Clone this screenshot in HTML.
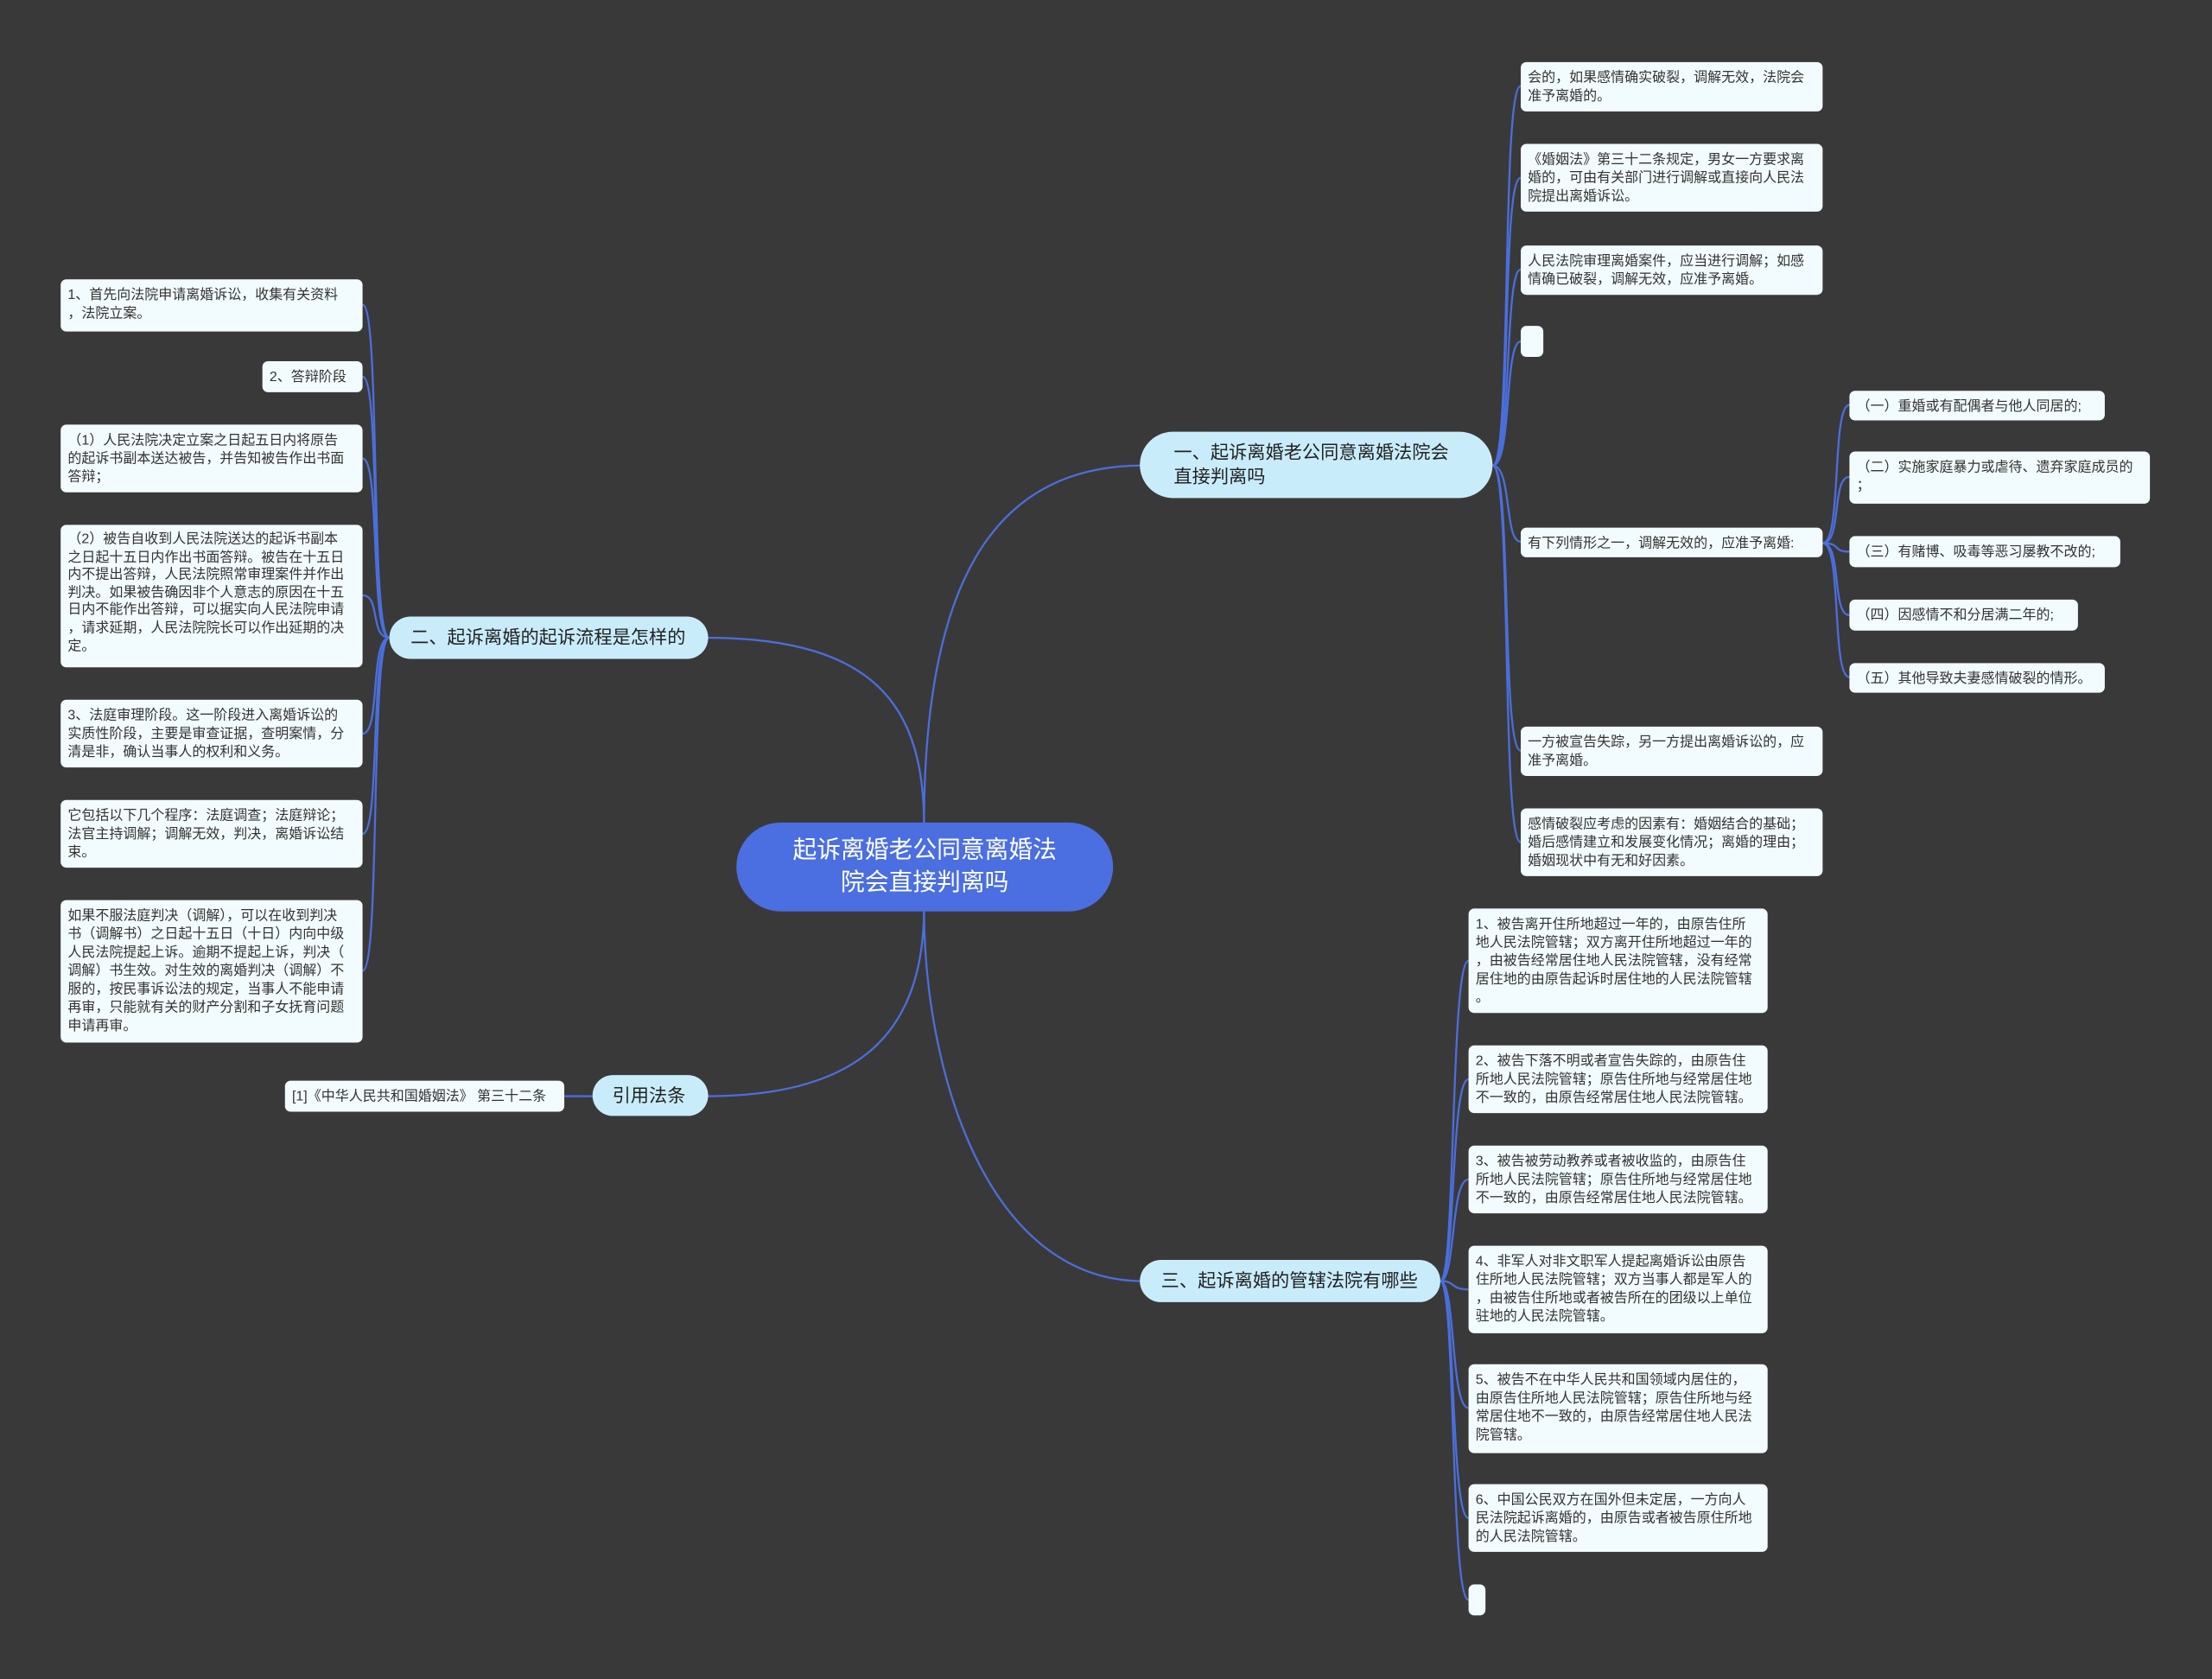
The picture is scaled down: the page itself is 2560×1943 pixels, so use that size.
<!DOCTYPE html>
<html><head><meta charset="utf-8"><style>
html,body{margin:0;padding:0;background:#3a393a;}
#wrap{width:2560px;height:1943px;overflow:hidden;position:relative;background:#3a393a;}
#s{position:absolute;left:0;top:0;width:1568px;height:1190px;transform:scale(1.63265);transform-origin:0 0;font-family:"Liberation Sans","Noto Sans CJK SC",sans-serif;}
.l{position:absolute;background:#f2fbfd;border-radius:4px;font-size:9.8px;line-height:13px;color:#333;padding:5px 4px 3px 5px;box-sizing:border-box;white-space:nowrap;overflow:hidden;}
.n{position:absolute;background:#c9ecfb;color:#222;font-size:13px;line-height:17px;box-sizing:border-box;border-radius:24px;}
svg{position:absolute;left:0;top:0;}
</style></head><body><div id="wrap"><div id="s">
<svg width="1568" height="1190" fill="none" stroke="#4a6fdc" stroke-width="1.4">
<path d="M655,585 C655,420 700,330 810,330"/>
<path d="M655,585 C655,500 620,452 500,452"/>
<path d="M655,644 C655,760 700,908 810,908"/>
<path d="M655,644 C655,740 600,777 500,777"/>
<path d="M420,777 H400"/>
<g>
<path d="M1058,330 C1072,330 1064,61 1078,61"/>
<path d="M1058,330 C1072,330 1064,126 1078,126"/>
<path d="M1058,330 C1072,330 1066,191 1078,191"/>
<path d="M1058,330 C1072,330 1066,242 1078,242"/>
<path d="M1058,330 C1072,330 1066,384 1078,384"/>
<path d="M1058,330 C1072,330 1064,532 1078,532"/>
<path d="M1058,330 C1072,330 1064,597 1078,597"/>
</g>
<g>
<path d="M1292,385 C1306,385 1298,287 1311,287"/>
<path d="M1292,385 C1306,385 1298,338 1311,338"/>
<path d="M1292,385 C1306,385 1298,391 1311,391"/>
<path d="M1292,385 C1306,385 1298,436 1311,436"/>
<path d="M1292,385 C1306,385 1298,480 1311,480"/>
</g>
<g>
<path d="M276,452 C262,452 270,216 257,216"/>
<path d="M276,452 C262,452 270,267 257,267"/>
<path d="M276,452 C262,452 270,325 257,325"/>
<path d="M276,452 C262,452 270,422 257,422"/>
<path d="M276,452 C262,452 270,520 257,520"/>
<path d="M276,452 C262,452 270,591 257,591"/>
<path d="M276,452 C262,452 270,688 257,688"/>
</g>
<g>
<path d="M1021,908 C1032,908 1028,681 1041,681"/>
<path d="M1021,908 C1032,908 1028,765 1041,765"/>
<path d="M1021,908 C1032,908 1028,836 1041,836"/>
<path d="M1021,908 C1032,908 1028,914 1041,914"/>
<path d="M1021,908 C1032,908 1028,998 1041,998"/>
<path d="M1021,908 C1032,908 1028,1076 1041,1076"/>
<path d="M1021,908 C1032,908 1028,1134 1041,1134"/>
</g>
</svg>

<div style="position:absolute;left:522px;top:583px;width:267px;height:63px;background:#4b6fe0;border-radius:32px;color:#fff;font-size:17px;line-height:23px;text-align:center;box-sizing:border-box;padding-top:8px;">起诉离婚老公同意离婚法<br>院会直接判离吗</div>

<div class="n" style="left:808px;top:306px;width:250px;height:47px;padding:6px 0 0 24px;">一、起诉离婚老公同意离婚法院会<br>直接判离吗</div>
<div class="n" style="left:276px;top:437px;width:226px;height:30px;padding:6px 0 0 15px;">二、起诉离婚的起诉流程是怎样的</div>
<div class="n" style="left:420px;top:762px;width:82px;height:29px;padding:6px 0 0 14px;">引用法条</div>
<div class="n" style="left:808px;top:893px;width:213px;height:30px;padding:6px 0 0 15px;">三、起诉离婚的管辖法院有哪些</div>

<div class="l" style="left:1078px;top:44px;width:214px;height:35px;">会的，如果感情确实破裂，调解无效，法院会<br>准予离婚的。</div>
<div class="l" style="left:1078px;top:102px;width:214px;height:48px;">《婚姻法》第三十二条规定，男女一方要求离<br>婚的，可由有关部门进行调解或直接向人民法<br>院提出离婚诉讼。</div>
<div class="l" style="left:1078px;top:174px;width:214px;height:35px;">人民法院审理离婚案件，应当进行调解；如感<br>情确已破裂，调解无效，应准予离婚。</div>
<div class="l" style="left:1078px;top:231px;width:16px;height:22px;"></div>
<div class="l" style="left:1078px;top:374px;width:214px;height:21px;">有下列情形之一，调解无效的，应准予离婚:</div>
<div class="l" style="left:1078px;top:515px;width:214px;height:35px;">一方被宣告失踪，另一方提出离婚诉讼的，应<br>准予离婚。</div>
<div class="l" style="left:1078px;top:573px;width:214px;height:48px;">感情破裂应考虑的因素有：婚姻结合的基础；<br>婚后感情建立和发展变化情况；离婚的理由；<br>婚姻现状中有无和好因素。</div>

<div class="l" style="left:1311px;top:277px;width:181px;height:21px;">（一）重婚或有配偶者与他人同居的;</div>
<div class="l" style="left:1311px;top:320px;width:213px;height:37px;">（二）实施家庭暴力或虐待、遗弃家庭成员的<br>；</div>
<div class="l" style="left:1311px;top:380px;width:192px;height:22px;">（三）有赌博、吸毒等恶习屡教不改的;</div>
<div class="l" style="left:1311px;top:425px;width:162px;height:22px;">（四）因感情不和分居满二年的;</div>
<div class="l" style="left:1311px;top:470px;width:181px;height:21px;">（五）其他导致夫妻感情破裂的情形。</div>

<div class="l" style="left:43px;top:198px;width:214px;height:37px;">1、首先向法院申请离婚诉讼，收集有关资料<br>，法院立案。</div>
<div class="l" style="left:186px;top:256px;width:71px;height:22px;">2、答辩阶段</div>
<div class="l" style="left:43px;top:301px;width:214px;height:48px;">（1）人民法院决定立案之日起五日内将原告<br>的起诉书副本送达被告，并告知被告作出书面<br>答辩；</div>
<div class="l" style="left:43px;top:372px;width:214px;height:101px;line-height:12.6px;">（2）被告自收到人民法院送达的起诉书副本<br>之日起十五日内作出书面答辩。被告在十五日<br>内不提出答辩，人民法院照常审理案件并作出<br>判决。如果被告确因非个人意志的原因在十五<br>日内不能作出答辩，可以据实向人民法院申请<br>，请求延期，人民法院院长可以作出延期的决<br>定。</div>
<div class="l" style="left:43px;top:496px;width:214px;height:48px;">3、法庭审理阶段。这一阶段进入离婚诉讼的<br>实质性阶段，主要是审查证据，查明案情，分<br>清是非，确认当事人的权利和义务。</div>
<div class="l" style="left:43px;top:567px;width:214px;height:48px;">它包括以下几个程序：法庭调查；法庭辩论；<br>法官主持调解；调解无效，判决，离婚诉讼结<br>束。</div>
<div class="l" style="left:43px;top:638px;width:214px;height:101px;">如果不服法庭判决（调解），可以在收到判决<br>书（调解书）之日起十五日（十日）内向中级<br>人民法院提起上诉。逾期不提起上诉，判决（<br>调解）书生效。对生效的离婚判决（调解）不<br>服的，按民事诉讼法的规定，当事人不能申请<br>再审，只能就有关的财产分割和子女抚育问题<br>申请再审。</div>
<div class="l" style="left:202px;top:766px;width:198px;height:22px;">[1]《中华人民共和国婚姻法》 第三十二条</div>

<div class="l" style="left:1041px;top:644px;width:212px;height:74px;">1、被告离开住所地超过一年的，由原告住所<br>地人民法院管辖；双方离开住所地超过一年的<br>，由被告经常居住地人民法院管辖，没有经常<br>居住地的由原告起诉时居住地的人民法院管辖<br>。</div>
<div class="l" style="left:1041px;top:741px;width:212px;height:48px;">2、被告下落不明或者宣告失踪的，由原告住<br>所地人民法院管辖；原告住所地与经常居住地<br>不一致的，由原告经常居住地人民法院管辖。</div>
<div class="l" style="left:1041px;top:812px;width:212px;height:48px;">3、被告被劳动教养或者被收监的，由原告住<br>所地人民法院管辖；原告住所地与经常居住地<br>不一致的，由原告经常居住地人民法院管辖。</div>
<div class="l" style="left:1041px;top:883px;width:212px;height:62px;">4、非军人对非文职军人提起离婚诉讼由原告<br>住所地人民法院管辖；双方当事人都是军人的<br>，由被告住所地或者被告所在的团级以上单位<br>驻地的人民法院管辖。</div>
<div class="l" style="left:1041px;top:967px;width:212px;height:63px;">5、被告不在中华人民共和国领域内居住的，<br>由原告住所地人民法院管辖；原告住所地与经<br>常居住地不一致的，由原告经常居住地人民法<br>院管辖。</div>
<div class="l" style="left:1041px;top:1052px;width:212px;height:48px;">6、中国公民双方在国外但未定居，一方向人<br>民法院起诉离婚的，由原告或者被告原住所地<br>的人民法院管辖。</div>
<div class="l" style="left:1041px;top:1123px;width:12px;height:22px;"></div>
</div></div></body></html>
